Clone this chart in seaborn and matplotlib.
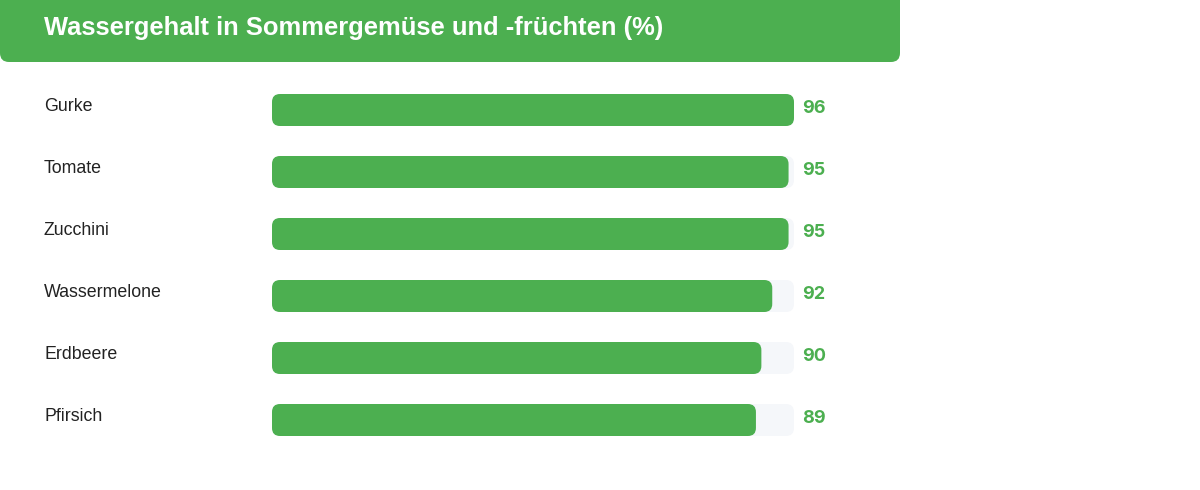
import matplotlib
matplotlib.use("Agg")
import matplotlib.pyplot as plt
from matplotlib.patches import FancyBboxPatch
import seaborn as sns
import pandas as pd

categories = ["Gurke", "Tomate", "Zucchini", "Wassermelone", "Erdbeere", "Pfirsich"]
values = [96, 95, 95, 92, 90, 89]
title = "Wassergehalt in Sommergemüse und -früchten (%)"

GREEN = "#4caf50"
TRACK = "#f5f7fa"

sns.set_theme(style="white")
plt.rcParams["font.family"] = ["Liberation Sans", "DejaVu Sans"]

W, H = 1200, 490
fig = plt.figure(figsize=(12, 4.9), dpi=100)

# header
hax = fig.add_axes([0, 0, 1, 1])
hax.set_xlim(0, W)
hax.set_ylim(H, 0)
hax.axis("off")
hax.add_patch(FancyBboxPatch((0, -20), 900, 82, boxstyle="round,pad=0,rounding_size=9",
                             fc=GREEN, ec="none"))
hax.text(44, 28, title, color="white", fontsize=18.4, fontweight="bold", va="center", ha="left")

# bars
left, right = 272, 794
top, bottom = 79, 451
ax = fig.add_axes([left / W, 1 - bottom / H, (right - left) / W, (bottom - top) / H])
df = pd.DataFrame({"cat": categories, "val": values})
vmax = max(values)
df["track"] = vmax
sns.barplot(data=df, y="cat", x="track", color=TRACK, width=32 / 62, ax=ax, saturation=1)
sns.barplot(data=df, y="cat", x="val", color=GREEN, width=32 / 62, ax=ax, saturation=1)
ax.set_xlim(0, vmax)
ax.set_ylim(len(categories) - 0.5, -0.5)
ax.axis("off")

xu = vmax / (right - left)
yu = len(categories) / (bottom - top)
aspect = yu / xu
patches = list(ax.patches)
for p in patches:
    x, y = p.get_x(), p.get_y()
    w, h = p.get_width(), p.get_height()
    fc = p.get_facecolor()
    p.remove()
    ax.add_patch(FancyBboxPatch((x, y), w, h,
                                boxstyle=f"round,pad=0,rounding_size={8 * xu}",
                                mutation_aspect=aspect, fc=fc, ec="none"))

for i, (c, v) in enumerate(zip(categories, values)):
    ax.text(vmax + 8 * xu, i - 0.03, f"{v}", color=GREEN, fontsize=13, fontweight="bold",
            family=["Inter", "DejaVu Sans"], va="center", ha="left")
    hax.text(44, 110 + 62 * i - 4, c, color="#222222", fontsize=12.8, va="center", ha="left")

fig.savefig("out.png", dpi=100)
